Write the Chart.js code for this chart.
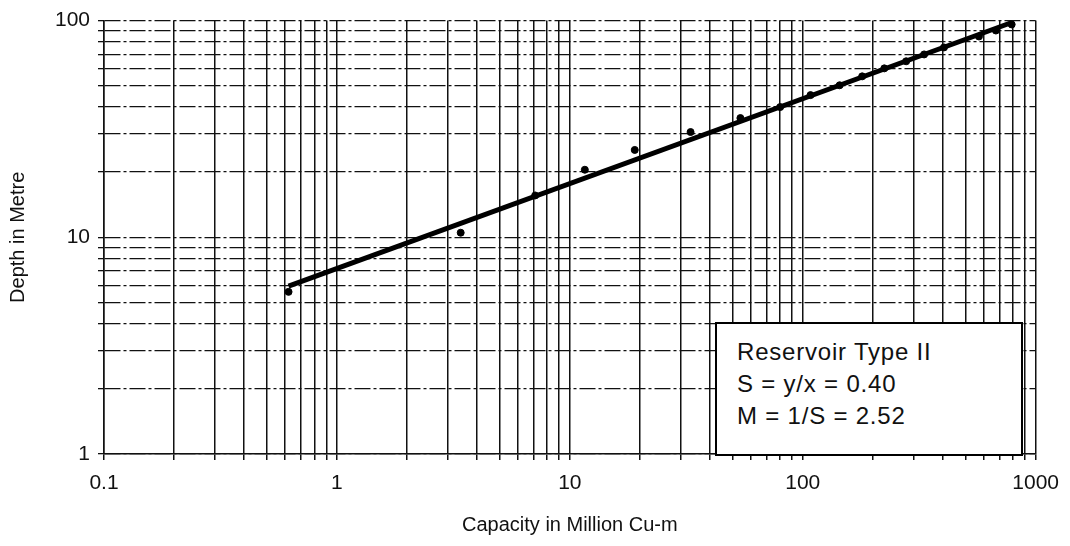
<!DOCTYPE html>
<html>

<head>
    <title>Reservoir Type II</title>
    <script src="https://cdn.jsdelivr.net/npm/chart.js"></script>
    <style>
        body { margin: 0; background: #fff; }
        #wrap { position: relative; width: 1070px; height: 546px; }
        #note {
            position: absolute; left: 715px; top: 322px; width: 284px; height: 118px;
            border: 2px solid #000; background: #fff; padding: 12px 0 0 20px; box-sizing: content-box;
            font-family: "Liberation Sans", Arial, sans-serif; font-size: 24px; line-height: 32px;
            letter-spacing: 0.8px; color: #111;
        }
    </style>
</head>

<body>
    <div id="wrap">
        <canvas id="myChart" width="1070" height="546"></canvas>
        <div id="note">Reservoir Type II<br>S = y/x = 0.40<br>M = 1/S = 2.52</div>
    </div>

    <script>
        // observed points (capacity, depth)
        var capacity = [0.62, 3.4, 7.1, 11.6, 19, 33, 54, 80, 108, 144, 180, 224, 278, 332, 404, 571, 675, 789];
        var depth = [5.6, 10.5, 15.6, 20.5, 25.3, 30.6, 35.5, 39.9, 45.3, 50.3, 55.3, 60.2, 64.9, 69.8, 75.2, 84.5, 90, 96];

        // fitted line end points
        var fitCapacity = [0.62, 790];
        var fitDepth = [5.95, 98];

        // log axis decades and minor multiples
        var xDecades = [0.1, 1, 10, 100];
        var yDecades = [1, 10];
        var multiples = [1, 2, 3, 4, 5, 6, 7, 8, 9];

        function logTicks(decades, last) {
            var t = [];
            decades.forEach(function (d) {
                multiples.forEach(function (m) { t.push({ value: d * m, major: m === 1 }); });
            });
            t.push({ value: last, major: true });
            return t;
        }

        var font = "'Liberation Sans', Arial, sans-serif";

        var ctx = document.getElementById('myChart').getContext('2d');

        var myChart = new Chart(ctx, {
            type: 'scatter',
            data: {
                datasets: [
                    {
                        label: 'Fit',
                        type: 'line',
                        data: fitCapacity.map(function (x, i) { return { x: x, y: fitDepth[i] }; }),
                        borderColor: '#000',
                        borderWidth: 5,
                        pointRadius: 0,
                        fill: false
                    },
                    {
                        label: 'Observed',
                        data: capacity.map(function (x, i) { return { x: x, y: depth[i] }; }),
                        backgroundColor: '#000',
                        borderColor: '#000',
                        pointRadius: 3.5
                    }]
            },
            options: {
                responsive: false,
                animation: false,
                layout: { padding: { top: 18, right: 30, left: 0, bottom: 0 } },
                plugins: {
                    legend: { display: false },
                    tooltip: { enabled: false }
                },
                scales: {
                    x: {
                        type: 'logarithmic',
                        min: 0.1,
                        max: 1000,
                        afterBuildTicks: function (axis) { axis.ticks = logTicks(xDecades, 1000); },
                        afterFit: function (axis) { axis.height = 92; },
                        ticks: {
                            autoSkip: false,
                            maxRotation: 0,
                            padding: 11,
                            color: '#111',
                            font: { family: font, size: 21 },
                            callback: function (v, i, ticks) { return ticks[i].major ? String(ticks[i].value) : ''; }
                        },
                        grid: { color: '#111', lineWidth: 1.5, tickLength: 6 },
                        border: { color: '#111', width: 1.5, dash: [] },
                        title: {
                            display: true,
                            text: 'Capacity in Million Cu-m',
                            color: '#111',
                            font: { family: font, size: 20 },
                            padding: { top: 4, bottom: 9 }
                        }
                    },
                    y: {
                        type: 'logarithmic',
                        min: 1,
                        max: 100,
                        afterBuildTicks: function (axis) { axis.ticks = logTicks(yDecades, 100); },
                        afterFit: function (axis) { axis.width = 104; },
                        ticks: {
                            autoSkip: false,
                            padding: 8,
                            color: '#111',
                            font: { family: font, size: 21 },
                            callback: function (v, i, ticks) { return ticks[i].major ? String(ticks[i].value) : ''; }
                        },
                        grid: { color: '#111', lineWidth: 1.3, tickLength: 6 },
                        border: { color: '#111', width: 1.5, dash: [16, 3, 3, 3] },
                        title: {
                            display: true,
                            text: 'Depth in Metre',
                            color: '#111',
                            font: { family: font, size: 20 },
                            padding: { top: 6, bottom: 4 }
                        }
                    }
                }
            }
        });
    </script>

</body>

</html>
